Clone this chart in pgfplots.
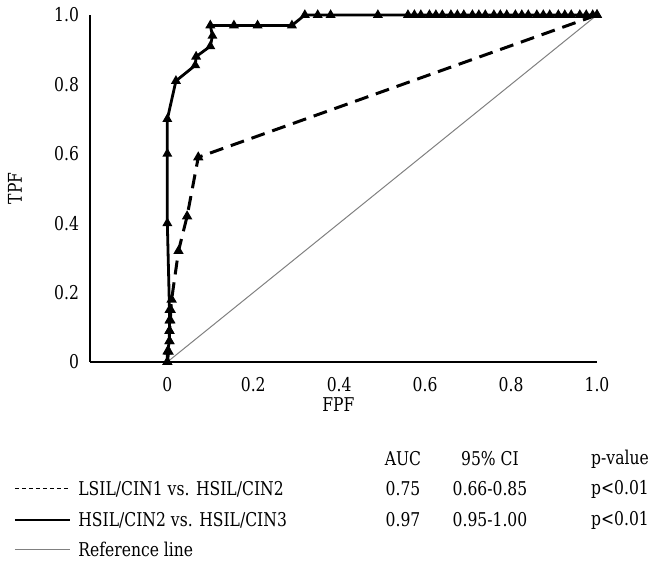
\documentclass[border=0pt]{standalone}
\usepackage{fontspec}
\setmainfont{DejaVu Serif}[FakeStretch=0.82]
\usepackage{pgfplots}
\pgfplotsset{compat=1.18}
\begin{document}
\begin{tikzpicture}[font=\fontsize{9.5}{11}\selectfont]
\begin{axis}[
  at={(0,0)}, anchor=south west,
  scale only axis, width=253.5pt, height=173.5pt,
  xmin=-0.18, xmax=1, ymin=0, ymax=1,
  axis x line=bottom, axis y line=left,
  axis line style={-, line width=0.8pt},
  xtick={0,0.2,0.4,0.6,0.8,1}, xticklabels={0,0.2,0.4,0.6,0.8,1.0},
  ytick={0,0.2,0.4,0.6,0.8,1}, yticklabels={0,0.2,0.4,0.6,0.8,1.0},
  major tick length=0pt,
  xticklabel style={yshift=-4pt},
  yticklabel style={xshift=-2pt},
  xlabel={FPF}, ylabel={TPF},
  xlabel style={at={(axis description cs:0.49,-0.124)}, anchor=center},
  ylabel style={at={(axis description cs:-0.148,0.5)}, anchor=center},
  clip=false,
]
% reference line
\addplot[gray, line width=0.5pt] coordinates {(0,0) (1,1)};
% LSIL/CIN1 vs HSIL/CIN2
\addplot[black, line width=1.5pt, dash pattern=on 7pt off 4pt,
  mark=triangle*, mark size=1.5pt, mark options={solid}] coordinates {
  (0,0) (0.003,0.03) (0.005,0.06) (0.005,0.09) (0.007,0.12) (0.008,0.15)
  (0.01,0.18) (0.026,0.32) (0.046,0.42) (0.072,0.59) (1,1)
};
% HSIL/CIN2 vs HSIL/CIN3
\addplot[black, line width=1.4pt, mark=triangle*, mark size=1.5pt] coordinates {
  (0,0) (0,0.03) (0.005,0.06) (0.005,0.09) (0.005,0.12) (0.005,0.15)
  (0,0.4) (0,0.6) (0,0.7) (0.02,0.81) (0.065,0.855) (0.067,0.88)
  (0.1,0.91) (0.105,0.94) (0.1,0.97) (0.155,0.97) (0.21,0.97) (0.29,0.97)
  (0.32,1) (0.35,1) (0.38,1) (0.49,1) (0.56,1) (0.575,1) (0.59,1) (0.61,1)
  (0.625,1) (0.64,1) (0.66,1) (0.675,1) (0.69,1) (0.71,1) (0.725,1)
  (0.74,1) (0.76,1) (0.775,1) (0.79,1) (0.81,1) (0.825,1) (0.84,1)
  (0.86,1) (0.875,1) (0.89,1) (0.91,1) (0.925,1) (0.94,1) (0.96,1)
  (0.975,1) (0.99,1) (1,1)
};
\end{axis}
% legend table
\node at (156.5pt,-48.5pt) {AUC};
\node at (200pt,-48.5pt) {95\% CI};
\node at (265pt,-48.5pt) {p-value};
\draw[black, line width=0.5pt, dash pattern=on 2pt off 1.5pt] (-37.5pt,-63.5pt) -- (-10pt,-63.5pt);
\node[anchor=west, inner xsep=0pt] at (-6pt,-63.5pt) {LSIL/CIN1 vs. HSIL/CIN2};
\node at (156.5pt,-63.5pt) {0.75};
\node at (200pt,-63.5pt) {0.66-0.85};
\node at (265pt,-63.5pt) {p<0.01};
\draw[black, line width=1pt] (-37.5pt,-79pt) -- (-10pt,-79pt);
\node[anchor=west, inner xsep=0pt] at (-6pt,-79pt) {HSIL/CIN2 vs. HSIL/CIN3};
\node at (156.5pt,-79pt) {0.97};
\node at (200pt,-79pt) {0.95-1.00};
\node at (265pt,-79pt) {p<0.01};
\draw[gray, line width=0.5pt] (-37.5pt,-93.5pt) -- (-10pt,-93.5pt);
\node[anchor=west, inner xsep=0pt] at (-6pt,-93.5pt) {Reference line};
\pgfresetboundingbox
\path (-45pt,-100pt) rectangle (282pt,181pt);
\end{tikzpicture}
\end{document}
